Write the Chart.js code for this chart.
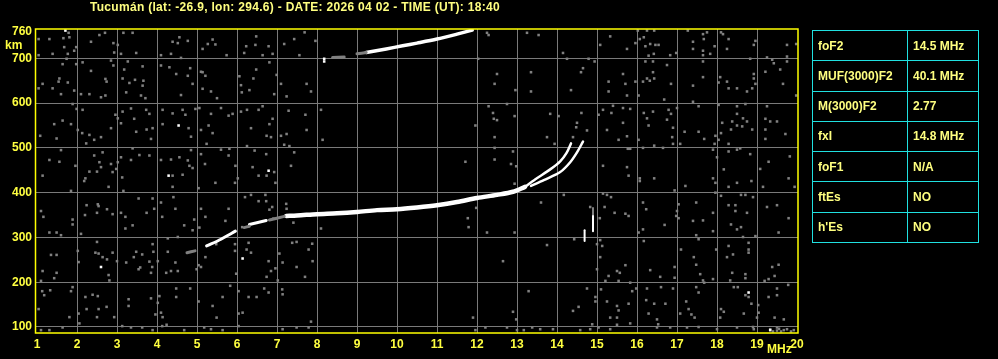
<!DOCTYPE html>
<html>
<head>
<meta charset="utf-8">
<script src="https://cdn.jsdelivr.net/npm/chart.js@4/dist/chart.umd.min.js"></script>
<style>
  html, body { margin:0; padding:0; background:#000; width:998px; height:359px; overflow:hidden; }
  #wrap { position:relative; width:998px; height:359px; }
  canvas { position:absolute; left:0; top:0; }
  .lbl { position:absolute; font:bold 12px "Liberation Sans", Arial, sans-serif; color:#ffff80; white-space:nowrap; }
  #title { left:90px; top:0px; letter-spacing:0.3px; }
  #km { left:5px; top:38px; color:#ffff40; }
  #mhz { left:767px; top:342px; color:#ffff40; }
  table { position:absolute; left:812px; top:30px; width:167px; height:213px; border-collapse:collapse; }
  td { border:1px solid #20e0e0; font:bold 12px "Liberation Sans", Arial, sans-serif; color:#ffff80; padding:0 0 0 5px; height:29px; white-space:nowrap; }
  td.k { width:89px; }
</style>
</head>
<body>
<div id="wrap">
  <canvas id="c" width="998" height="359"></canvas>
  <div class="lbl" id="title">Tucumán (lat: -26.9, lon: 294.6) - DATE: 2026 04 02 - TIME (UT): 18:40</div>
  <div class="lbl" id="km">km</div>
  <div class="lbl" id="mhz">MHz</div>
  <table id="tbl"></table>
</div>
<script>
// ---- data ----
const xTickValues = [1,2,3,4,5,6,7,8,9,10,11,12,13,14,15,16,17,18,19,20];
const yTickValues = [100,200,300,400,500,600,700,760];

const paramNames  = ["foF2","MUF(3000)F2","M(3000)F2","fxI","foF1","ftEs","h'Es"];
const paramValues = ["14.5 MHz","40.1 MHz","2.77","14.8 MHz","N/A","NO","NO"];

// main echo traces [frequency MHz, virtual height km]
const oLow    = [[5.24,281],[5.6,296],[5.96,314]];
const oMid    = [[6.31,329],[6.73,338]];
const oMain   = [[7.23,348],[7.5,349],[8.0,352],[8.5,354],[9.0,357],[9.5,361],[10.0,363],[10.5,367],[11.0,372],[11.5,379],[12.0,388],[12.5,395],[12.9,402],[13.2,413]];
const oUpper  = [[13.2,413],[13.46,430],[13.83,452],[14.08,470],[14.24,489],[14.35,510]];
const xBranch = [[13.35,415],[13.67,428],[14.08,446],[14.33,468],[14.5,490],[14.65,514]];
const vert1   = [[14.9,351],[14.9,314]];
const vert2   = [[14.69,316],[14.69,292]];
const multi   = [[9.23,713],[9.73,721],[10.14,728],[10.5,734],[11.0,743],[11.5,754],[11.88,763]];
const grayA   = [[4.75,266],[4.95,270]];
const grayB   = [[6.18,322],[6.31,325]];
const grayC   = [[6.81,339],[7.18,347]];
const grayD   = [[8.39,702],[8.68,703]];
const grayE   = [[14.9,366],[14.9,351]];
const grayF   = [[9.0,710],[9.23,713]];

const whiteDots = [[1.71,762],[4.54,550],[6.79,449],[4.29,438],[8.18,699],[8.18,693],[2.60,234],[6.14,253],[18.79,177],[19.33,93]];

const noise = [
[1.79,757],[2.56,752],[2.70,757],[3.16,757],[3.39,757],[1.66,745],[1.81,747],[1.31,743],[1.04,743],[2.35,737],[2.91,734],[3.02,730],[1.68,725],[1.98,725],[1.39,710],[1.77,710],[1.93,717],[2.93,713],[3.10,710],[3.48,712],[1.04,707],[4.39,737],[4.52,734],[4.77,739],[4.56,747],[5.27,732],[5.39,742],[5.46,731],[5.14,721],[6.23,727],[6.46,730],[6.79,727],[7.18,732],[6.48,749],[7.43,743],[7.69,758],[7.96,739],[4.10,707],[4.35,710],[4.60,701],[5.74,707],[6.18,712],[6.64,707],[6.89,710],[7.56,707],
[1.74,699],[1.98,687],[1.64,687],[2.14,691],[2.91,684],[4.10,684],[2.35,672],[2.85,695],[3.27,693],[3.18,675],[3.64,682],[4.31,680],[4.83,678],[5.14,669],[6.06,660],[6.48,675],[6.81,691],[6.99,663],[6.41,655],[1.14,643],[1.54,648],[1.56,655],[1.77,646],[2.71,654],[2.74,648],[3.14,655],[3.45,652],[3.66,650],[3.31,645],[3.64,639],[4.48,665],[4.77,661],[4.89,643],[5.10,670],[5.21,661],[6.10,640],[5.14,632],[5.35,626],[5.50,611],[6.12,624],[6.31,629],[7.10,643],[7.74,643],[7.85,626],[1.04,633],[1.39,633],[1.60,620],[1.93,628],[2.10,620],[2.31,620],[2.60,613],[2.71,617],[3.23,624],[3.60,617],[3.71,611],[4.60,618],[6.93,620],[7.24,615],
[1.89,598],[1.99,587],[2.14,585],[2.96,574],[3.02,566],[3.14,581],[3.35,588],[3.43,565],[3.73,585],[3.81,576],[4.14,585],[4.39,577],[4.64,585],[4.71,574],[5.06,589],[4.96,587],[5.35,576],[5.29,550],[5.79,572],[5.89,576],[5.60,589],[6.10,581],[6.25,585],[6.54,585],[6.64,593],[6.89,565],[6.81,553],[7.29,583],[7.71,574],[8.10,585],[1.64,561],[1.85,553],[1.43,553],[1.08,527],[1.49,521],[2.02,540],[2.13,533],[2.31,529],[2.43,518],[2.23,510],[2.60,524],[2.85,544],[3.10,555],[3.48,536],[3.74,541],[3.89,544],[3.85,520],[4.14,553],[4.79,544],[4.85,525],[5.10,540],[5.39,533],[5.24,509],[6.35,544],[6.74,527],[6.85,524],[7.10,527],[7.24,531],[7.74,540],[8.14,518],
[1.60,495],[1.31,473],[1.56,469],[1.96,460],[2.43,483],[2.64,490],[2.56,468],[2.60,457],[2.85,464],[3.02,468],[3.10,479],[3.39,499],[3.35,473],[3.56,484],[3.81,483],[4.10,473],[4.35,474],[4.56,479],[4.77,472],[4.85,495],[4.81,460],[4.89,455],[5.10,486],[5.20,464],[5.60,496],[5.81,498],[5.79,483],[5.96,460],[6.25,504],[6.44,494],[6.73,486],[7.18,507],[7.31,504],[7.43,490],[7.35,460],[6.39,457],[6.93,446],[6.54,438],[6.74,438],[4.64,440],[4.39,438],[6.02,432],[2.31,447],[2.50,447],[1.14,438],[2.21,432],[2.98,453],[2.89,446],[3.13,434],
[12.25,757],[12.29,752],[13.25,757],[13.54,752],[14.15,712],[15.08,730],[15.33,749],[15.75,721],[15.96,734],[16.02,762],[16.07,743],[16.17,747],[16.25,762],[16.21,727],[16.33,732],[16.43,762],[16.42,710],[16.29,706],[16.46,730],[16.54,730],[16.83,707],[16.98,712],[17.27,762],[17.40,737],[17.40,721],[17.65,754],[17.67,743],[17.65,717],[17.65,707],[17.75,758],[17.83,710],[17.94,727],[18.10,758],[18.15,754],[18.29,743],[18.25,721],[18.92,730],[18.96,739],[19.25,702],[19.38,697],[19.42,689],[19.58,675],[19.75,730],[19.75,704],[19.75,693],[19.98,732],
[12.03,699],[14.25,699],[14.79,699],[14.94,693],[16.21,693],[16.40,693],[16.75,685],[17.65,693],[18.83,699],[12.50,665],[12.44,643],[13.35,669],[14.60,669],[14.65,678],[12.96,629],[13.35,626],[14.35,629],[15.29,648],[15.29,626],[15.65,665],[15.71,643],[15.75,617],[15.96,648],[16.04,617],[16.15,648],[16.25,655],[16.32,650],[16.40,669],[16.43,655],[16.68,608],[16.85,643],[17.40,639],[17.65,658],[18.08,658],[18.04,646],[18.25,648],[18.29,633],[18.50,633],[18.75,626],[18.88,633],[18.92,665],[18.92,655],[18.96,643],[19.21,670],[19.65,643],[19.98,617],
[17.40,603],[17.54,593],[18.04,596],[18.50,593],[18.71,598],[19.25,593],[12.29,593],[12.40,578],[12.42,565],[12.50,562],[12.94,571],[12.75,598],[11.96,550],[13.83,576],[14.04,571],[14.50,556],[14.48,546],[14.75,539],[14.61,578],[15.04,574],[15.15,585],[15.36,578],[15.25,540],[15.40,594],[15.65,589],[15.65,556],[15.83,587],[16.17,578],[16.25,566],[16.40,581],[16.29,550],[16.75,563],[16.79,585],[16.85,576],[16.90,545],[17.00,589],[17.19,536],[17.54,536],[17.68,520],[17.96,527],[18.04,518],[18.10,533],[18.13,556],[18.38,559],[18.35,541],[18.50,550],[18.63,548],[18.65,566],[18.75,559],[18.50,576],[18.88,541],[19.21,565],[19.21,541],[19.33,559],[19.50,559],[19.71,531],[19.21,520],
[12.44,524],[12.44,500],[12.44,474],[13.75,524],[13.94,509],[14.40,524],[15.54,518],[15.75,526],[15.77,498],[15.83,498],[16.04,518],[16.15,500],[16.43,505],[16.65,500],[16.88,524],[16.90,509],[17.08,509],[17.94,509],[17.90,496],[18.00,479],[18.29,509],[18.29,492],[18.50,496],[18.58,499],[18.83,486],[19.29,469],[19.08,453],[19.82,481],[11.71,469],[12.90,492],[12.85,464],[12.98,459],[15.15,460],[15.75,457],[15.79,438],[16.07,432],[16.43,432],[17.90,432],[18.17,452],[19.79,432],
[1.85,404],[2.18,426],[2.79,413],[3.16,404],[4.39,413],[5.04,410],[5.46,422],[5.95,422],[6.96,422],[1.10,359],[1.16,346],[1.89,340],[1.89,329],[2.24,372],[2.52,374],[2.54,370],[2.75,363],[2.89,352],[2.20,350],[2.50,355],[3.10,355],[3.21,346],[3.21,320],[3.39,327],[3.54,387],[3.89,387],[3.93,364],[3.74,355],[4.10,378],[4.41,390],[4.13,346],[4.46,364],[4.68,327],[4.89,316],[5.10,364],[5.21,346],[4.93,340],[5.79,364],[5.71,337],[5.06,322],[6.20,390],[6.35,395],[6.54,381],[6.71,395],[6.73,381],[6.88,368],[6.81,362],[6.91,342],[7.23,375],[7.24,364],[7.41,333],[8.10,320],[6.13,323],
[1.31,311],[1.49,311],[1.60,305],[2.10,308],[2.50,290],[1.35,261],[1.49,261],[2.02,270],[2.46,266],[2.54,264],[2.64,256],[2.75,251],[2.89,266],[3.00,247],[3.23,244],[3.42,256],[3.48,268],[3.63,262],[3.89,285],[3.91,268],[3.81,246],[4.02,247],[4.27,298],[4.52,301],[4.27,268],[4.46,244],[3.88,234],[3.54,229],[3.58,233],[3.85,221],[4.23,221],[4.35,225],[4.52,225],[5.04,238],[5.10,234],[4.99,229],[5.21,256],[5.48,285],[5.95,285],[5.95,270],[6.24,273],[6.35,266],[6.29,288],[6.79,247],[6.96,231],[6.85,225],[6.74,212],[7.06,264],[7.14,244],[7.38,288],[7.49,290],[7.79,273],[7.88,286],[7.89,247],[7.49,234],[7.70,212],[7.02,204],[5.98,219],[1.14,225],[1.49,221],[1.43,209],[1.10,203],[2.04,245],[2.79,216],[2.81,204],
[1.13,180],[1.33,182],[1.18,171],[1.85,180],[1.89,189],[2.21,167],[2.39,172],[2.52,169],[2.74,145],[2.54,140],[2.24,140],[1.04,140],[1.81,122],[2.04,130],[2.06,108],[2.50,122],[2.93,122],[3.29,162],[3.29,147],[3.85,164],[4.06,169],[4.02,154],[4.10,132],[4.14,122],[3.96,128],[4.48,186],[4.83,186],[4.48,167],[5.04,157],[5.39,147],[5.49,121],[5.83,192],[5.64,167],[6.04,180],[6.04,130],[6.14,132],[6.29,167],[6.49,167],[6.68,186],[6.79,177],[7.13,184],[7.14,173],[7.85,112],[7.79,99],[7.14,95],[7.49,99],[3.13,102],[3.35,99],[3.63,99],[3.89,93],[4.13,102],[4.24,105],[4.68,93],[5.18,99],[5.35,95],[5.64,93],[6.04,102],[1.31,93],[1.64,99],[1.10,93],
[12.94,420],[14.17,395],[15.15,398],[15.25,395],[15.35,390],[14.83,368],[15.07,343],[15.19,368],[15.44,355],[15.71,353],[15.79,348],[13.60,378],[12.94,311],[12.25,311],[11.77,343],[11.79,323],[11.98,366],[16.07,426],[16.15,378],[16.23,363],[16.04,311],[16.15,318],[16.69,328],[16.94,405],[17.04,374],[17.00,359],[16.98,348],[17.04,343],[17.21,415],[17.40,337],[17.48,378],[17.65,338],[17.90,355],[17.90,314],[17.96,422],[17.96,400],[18.10,393],[18.29,413],[18.50,422],[18.60,395],[18.71,395],[18.90,390],[18.86,426],[19.15,413],[19.25,368],[19.50,372],[19.54,311],[19.79,343],[19.94,413],[18.29,372],[18.46,372],[18.46,359],[18.75,355],[18.35,329],[18.50,318],[18.60,323],[18.65,301],[17.48,305],[17.54,296],
[14.43,296],[13.75,283],[15.08,294],[15.13,281],[15.00,285],[15.08,256],[12.65,247],[16.17,292],[17.10,273],[17.42,256],[17.48,239],[17.98,273],[18.29,281],[18.40,262],[18.25,256],[18.79,288],[18.79,273],[18.79,266],[18.96,303],[19.38,234],[19.54,239],[19.44,214],[19.29,207],[19.19,203],[19.50,186],[19.78,194],[16.33,227],[16.58,212],[16.94,234],[16.94,210],[17.58,218],[17.65,204],[17.68,199],[17.90,207],[18.38,221],[18.71,218],[18.71,209],[18.33,204],[15.00,229],[15.50,225],[15.57,221],[15.71,238],[15.29,214],[15.21,203],[15.54,203],[15.83,199],
[13.29,180],[14.75,186],[15.10,184],[14.96,167],[14.96,157],[15.25,157],[15.50,147],[15.54,137],[15.88,180],[15.79,152],[15.98,186],[16.25,186],[16.23,160],[16.29,130],[16.43,152],[16.60,189],[16.71,152],[16.90,186],[17.08,130],[17.23,157],[17.29,140],[17.36,128],[17.48,189],[17.54,177],[17.44,121],[18.42,189],[18.52,189],[18.71,171],[18.79,167],[18.86,152],[19.03,149],[19.04,132],[19.29,167],[19.50,171],[18.90,100],[19.00,121],[18.67,130],[18.10,140],[18.17,134],[18.08,121],[19.44,121],[19.67,117],[14.54,145],[14.40,136],[12.90,134],[12.98,117],[11.90,121],[16.50,117],[16.53,106],[15.50,121],[15.33,121],[14.88,106],
[15.04,99],[15.50,105],[15.83,108],[16.50,99],[16.83,99],[17.25,99],[17.54,100],[18.00,95],[18.50,99],[18.92,95],[19.33,95],[19.50,99],[19.67,93],[19.92,93],[12.75,99],[13.00,93],[13.17,93],[12.21,99],[11.96,93],[13.38,99],[13.58,95],[13.90,95],[14.58,93],[14.83,95],[15.33,95],
[19.40,90],[19.50,92],[19.60,90],[19.75,95],[19.85,90],[19.55,96]
];

// ---- styles ----
const GRID = '#7a7a7a';
const NOISE = '#808080';
const TICK = '#ffff40';
const tickFont = { family: '"Liberation Sans", Arial, sans-serif', size: 12, weight: 'bold' };

function trace(data, color, width) {
  return { type: 'scatter', data: data, showLine: true, pointRadius: 0, borderColor: color,
           backgroundColor: color, borderWidth: width, tension: 0.3, borderCapStyle: 'round', order: 1 };
}

const datasets = [
  { data: noise, pointStyle: 'rect', pointRadius: 1.8, backgroundColor: NOISE, borderWidth: 0, order: 5 },
  trace(grayA, NOISE, 3), trace(grayB, NOISE, 3), trace(grayC, NOISE, 3),
  trace(grayD, NOISE, 3), trace(grayE, NOISE, 2), trace(grayF, NOISE, 3),
  trace(oLow, '#ffffff', 3), trace(oMid, '#ffffff', 3), trace(oMain, '#ffffff', 4.5),
  trace(oUpper, '#ffffff', 2.5), trace(xBranch, '#ffffff', 2.5),
  trace(vert1, '#ffffff', 2), trace(vert2, '#ffffff', 2),
  trace(multi, '#ffffff', 3.5),
  { data: whiteDots, pointStyle: 'rect', pointRadius: 1.8, backgroundColor: '#ffffff', borderWidth: 0, order: 0 }
];

const frame = {
  id: 'frame',
  afterDatasetsDraw(chart) {
    const a = chart.chartArea, ctx = chart.ctx;
    ctx.save();
    ctx.strokeStyle = '#ffff00';
    ctx.lineWidth = 1.5;
    ctx.strokeRect(a.left - 0.5, a.top, a.right - a.left + 0.5, a.bottom - a.top);
    ctx.restore();
  }
};

new Chart(document.getElementById('c'), {
  type: 'scatter',
  data: { datasets: datasets },
  options: {
    responsive: false,
    animation: false,
    events: [],
    layout: { padding: { top: 29, right: 200, left: 0, bottom: 0 } },
    plugins: { legend: { display: false }, tooltip: { enabled: false }, title: { display: false } },
    scales: {
      x: {
        type: 'linear', min: 0.975, max: 20.025,
        afterBuildTicks: s => { s.ticks = xTickValues.map(v => ({ value: v })); },
        afterFit: s => { s.height = 26; },
        ticks: { color: TICK, font: tickFont, padding: 4, maxRotation: 0, autoSkip: false },
        grid: { color: c => (c.tick && (c.tick.value === 1 || c.tick.value === 20)) ? 'rgba(0,0,0,0)' : GRID, drawTicks: false, lineWidth: 1 },
        border: { display: false }
      },
      y: {
        type: 'linear', min: 86.6, max: 765.5,
        afterBuildTicks: s => { s.ticks = yTickValues.map(v => ({ value: v })); },
        afterFit: s => { s.width = 36; },
        ticks: { color: TICK, font: tickFont, padding: 4, autoSkip: false },
        grid: { color: c => (c.tick && c.tick.value === 760) ? 'rgba(0,0,0,0)' : GRID, drawTicks: false, lineWidth: 1 },
        border: { display: false }
      }
    }
  },
  plugins: [frame]
});

// parameter table
const tbl = document.getElementById('tbl');
paramNames.forEach((n, i) => {
  const tr = document.createElement('tr');
  const a = document.createElement('td'); a.className = 'k'; a.textContent = n;
  const b = document.createElement('td'); b.textContent = paramValues[i];
  tr.appendChild(a); tr.appendChild(b); tbl.appendChild(tr);
});
</script>
</body>
</html>
